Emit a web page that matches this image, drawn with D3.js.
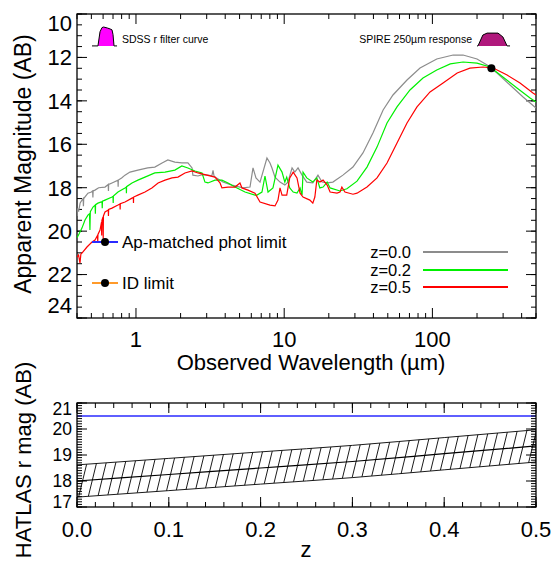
<!DOCTYPE html>
<html><head><meta charset="utf-8">
<script src="https://cdn.jsdelivr.net/npm/d3@7"></script>
<style>body{margin:0;background:#fff}svg{display:block;font-family:"Liberation Sans",Arial,sans-serif}</style>
</head><body>
<svg id="c" width="554" height="561"></svg>
<script>
// ---------------- data ----------------
const seriesNames = ["z=0.0","z=0.2","z=0.5"];
const seriesColors = ["#8c8c8c","#00f000","#ff0000"];
// [wavelength (micron), apparent AB magnitude]
const sedZ00 = [[0.400,19.3],[0.403,18.95],[0.41,19.1],[0.42,18.7],[0.432,18.57],[0.44,18.5],[0.442,18.85],[0.444,18.5],[0.474,18.25],[0.50,18.2],[0.51,18.15],[0.512,18.45],[0.514,18.15],[0.529,18.11],[0.56,18.0],[0.618,17.97],[0.65,17.85],[0.652,18.15],[0.654,17.85],[0.689,17.78],[0.756,17.65],[0.758,17.95],[0.760,17.65],[0.80,17.55],[0.843,17.42],[0.911,17.28],[1.03,17.19],[1.20,17.09],[1.34,17.05],[1.50,16.86],[1.64,16.72],[1.83,16.82],[2.04,16.86],[2.24,16.86],[2.39,17.09],[2.42,17.42],[2.62,17.46],[2.80,17.40],[3.06,17.42],[3.25,17.45],[3.31,17.2],[3.36,17.45],[3.41,17.51],[3.86,17.74],[4.44,17.88],[5.27,18.01],[5.88,17.97],[6.16,17.09],[6.45,17.55],[6.87,17.74],[7.65,16.63],[8.02,16.86],[8.27,17.09],[8.67,17.51],[9.37,17.74],[10.1,17.88],[10.6,17.74],[11.3,17.09],[11.8,17.28],[12.4,17.09],[13.2,17.42],[14.2,17.74],[15.6,17.78],[16.9,17.42],[18.0,17.74],[19.5,17.78],[21.3,17.74],[24.9,17.42],[29.1,17.05],[34.0,16.40],[39.7,15.48],[46.5,14.42],[54.2,13.73],[67.4,13.04],[82.5,12.49],[107,12.07],[138,11.89],[161,11.89],[200,12.07],[234,12.35],[273,12.72],[334,13.27],[409,13.82],[500,14.33]];
const sedZ02 = [[0.400,20.3],[0.415,20.1],[0.432,19.86],[0.453,19.49],[0.474,19.26],[0.486,19.2],[0.489,19.95],[0.492,19.1],[0.513,18.89],[0.53,18.8],[0.532,19.2],[0.534,18.78],[0.554,18.71],[0.59,18.64],[0.592,18.95],[0.594,18.62],[0.618,18.57],[0.689,18.43],[0.70,18.4],[0.702,18.7],[0.704,18.38],[0.756,18.20],[0.843,18.01],[0.86,17.97],[0.862,18.25],[0.864,17.95],[0.940,17.78],[1.03,17.65],[1.15,17.51],[1.34,17.32],[1.57,17.28],[1.83,17.19],[2.04,17.00],[2.24,17.09],[2.50,17.23],[2.79,17.32],[2.92,17.74],[3.06,17.78],[3.41,17.65],[3.80,17.65],[4.18,17.78],[4.66,17.97],[5.44,18.20],[6.35,18.34],[6.55,18.34],[7.08,18.20],[7.42,17.46],[7.78,18.20],[8.40,18.01],[9.08,16.96],[9.67,17.28],[10.1,17.74],[10.4,17.51],[10.9,18.01],[11.5,18.20],[12.2,18.25],[12.8,18.01],[13.2,18.34],[13.4,17.28],[14.2,17.55],[15.6,17.74],[16.6,17.55],[17.4,18.01],[18.3,17.97],[19.5,17.74],[20.4,18.01],[23.8,18.15],[26.5,18.05],[31.0,17.7],[36.2,17.05],[42.3,16.13],[49.4,15.02],[57.7,14.28],[70.6,13.50],[86.4,12.95],[107,12.58],[132,12.30],[161,12.21],[200,12.26],[245,12.44],[299,12.90],[372,13.41],[456,13.87],[500,14.05]];
const sedZ05 = [[0.400,21.2],[0.41,21.1],[0.419,21.47],[0.425,21.05],[0.432,21.01],[0.467,20.73],[0.505,20.5],[0.529,20.41],[0.55,20.2],[0.552,20.5],[0.554,20.15],[0.572,19.95],[0.585,19.6],[0.587,20.2],[0.589,19.5],[0.599,19.35],[0.601,20.35],[0.603,19.3],[0.618,19.12],[0.65,19.03],[0.652,19.3],[0.654,19.0],[0.689,18.94],[0.756,18.80],[0.78,18.75],[0.782,19.0],[0.784,18.73],[0.843,18.66],[0.94,18.48],[0.96,18.45],[0.962,18.7],[0.964,18.43],[1.03,18.34],[1.15,18.20],[1.28,18.01],[1.41,17.78],[1.57,17.65],[1.75,17.55],[1.92,17.51],[2.14,17.32],[2.39,17.23],[2.62,17.32],[3.01,17.42],[3.41,17.51],[3.69,17.78],[3.80,18.01],[4.18,17.97],[4.66,17.97],[5.03,17.78],[5.19,18.01],[5.70,18.11],[6.35,18.25],[6.87,18.66],[8.02,18.80],[8.67,18.84],[9.08,18.57],[9.37,18.01],[9.67,18.34],[10.4,18.34],[10.9,17.55],[11.5,17.28],[12.2,17.55],[12.8,18.25],[13.4,18.43],[14.9,18.57],[15.6,18.71],[16.1,18.43],[16.6,17.65],[17.4,17.74],[18.3,17.65],[19.5,17.88],[20.4,18.20],[22.7,18.25],[23.8,18.20],[24.5,17.97],[25.7,18.20],[29.1,18.30],[31.0,18.25],[36.2,17.97],[42.3,17.55],[49.4,16.86],[57.7,15.94],[67.4,15.02],[78.7,14.28],[96.4,13.59],[118,13.18],[147,12.72],[179,12.49],[220,12.44],[257,12.49],[319,12.81],[390,13.18],[477,13.64],[500,13.73]];
const seds = [sedZ00, sedZ02, sedZ05];
// filter curves: wavelength + relative response
const sdssLam  = [0.505,0.554,0.572,0.590,0.605,0.640,0.668,0.689,0.700,0.711,0.745];
const sdssResp = [0,0,0.75,0.97,1.0,0.95,0.9,0.85,0.6,0,0];
const spireLam  = [200,203,219,234,277,299,319,334];
const spireResp = [0,0,0.85,1.0,1.0,0.7,0,0];
const spireNorm = [250, 12.5];          // normalisation point
const apPhotLimit = 20.5, idLimit = 22.4;
const limitNames = ["Ap-matched phot limit","ID limit"];
const limitColors = ["#2a2aff","#ff9a2a"];
// bottom panel
const zVals   = [0.0,0.1,0.2,0.3,0.4,0.5];
const rMag    = [18.0,18.25,18.5,18.75,19.05,19.35];
const rMagHi  = [18.62,18.87,19.12,19.37,19.67,19.97];
const rMagLo  = [17.38,17.63,17.88,18.13,18.43,18.73];
const topYTicks = [10,12,14,16,18,20,22,24];
const topXTicks = [1,10,100];
const botXTicks = [0,0.1,0.2,0.3,0.4,0.5];
const botYTicks = [17,18,19,20,21];

// ---------------- drawing ----------------
const svg = d3.select("#c");
const x1 = d3.scaleLog().domain([0.4,500]).range([77,536]);
const y1 = d3.scaleLinear().domain([10,24]).range([14,318]);
const x2 = d3.scaleLinear().domain([0,0.5]).range([77,536]);
const y2 = d3.scaleLinear().domain([17,21]).range([507,403]);

function tick(g,a,b,c,d){g.append("line").attr("x1",a).attr("y1",b).attr("x2",c).attr("y2",d).attr("stroke","#000").attr("stroke-width",1);}

function frame(xs,ys,xMaj,xMin,yMaj,yMin,xFmt,yFmt,xLabBase,yFont,padTop,padBot){
  const [L,R]=xs.range(), B=d3.max(ys.range()), T=d3.min(ys.range());
  const g=svg.append("g");
  xMin.forEach(v=>{const X=xs(v);tick(g,X,B,X,B-5);tick(g,X,T,X,T+5);});
  xMaj.forEach(v=>{const X=xs(v);tick(g,X,B,X,B-10);tick(g,X,T,X,T+10);});
  yMin.forEach(v=>{const Y=ys(v);tick(g,L,Y,L+5,Y);tick(g,R,Y,R-5,Y);});
  yMaj.forEach(v=>{const Y=ys(v);tick(g,L,Y,L+10,Y);tick(g,R,Y,R-10,Y);});
  g.append("rect").attr("x",L).attr("y",T).attr("width",R-L).attr("height",B-T).attr("fill","none").attr("stroke","#000").attr("stroke-width",1.3);
  xMaj.forEach(v=>g.append("text").attr("x",xs(v)).attr("y",xLabBase).attr("text-anchor","middle").attr("font-size",22).text(xFmt(v)));
  yMaj.forEach(v=>{let Y=Math.min(Math.max(ys(v),T+padTop),B-padBot);
    g.append("text").attr("x",72).attr("y",Y+yFont*0.36).attr("text-anchor","end").attr("font-size",yFont).text(yFmt(v));});
}

// top panel
const minorLog=[];[0.1,1,10,100].forEach(d=>{for(let k=2;k<=9;k++){const v=d*k;if(v>=0.4&&v<=500)minorLog.push(v);}});
frame(x1,y1,topXTicks,minorLog,topYTicks,d3.range(10,24.01,0.5),d3.format("d"),d3.format("d"),347,22,9,13);

const line1 = d3.line().x(d=>x1(d[0])).y(d=>y1(d[1]));
svg.append("clipPath").attr("id","cp1").append("rect").attr("x",77).attr("y",14).attr("width",459).attr("height",304);
seds.forEach((s,i)=>svg.append("path").attr("d",line1(s)).attr("fill","none").attr("stroke",seriesColors[i]).attr("stroke-width",1.2).attr("clip-path","url(#cp1)"));

// filter curves
const sdssTop=10.6, sdssBase=11.47, spireTop=10.88, spireBase=11.47;
const sd = sdssLam.map((l,i)=>[l, sdssBase-(sdssBase-sdssTop)*sdssResp[i]]);
const sp = spireLam.map((l,i)=>[l, spireBase-(spireBase-spireTop)*spireResp[i]]);
svg.append("path").attr("d",line1(sd)).attr("fill","#ff00ff").attr("stroke","#000").attr("stroke-width",1);
svg.append("path").attr("d",line1(sp)).attr("fill","#b0187c").attr("stroke","#000").attr("stroke-width",1);
svg.append("text").attr("x",x1(0.745)+5).attr("y",y1(sdssBase)-3).attr("font-size",10.5).text("SDSS r filter curve");
svg.append("text").attr("x",x1(200)-5).attr("y",y1(spireBase)-3).attr("text-anchor","end").attr("font-size",10.5).text("SPIRE 250\u00b5m response");
svg.append("circle").attr("cx",x1(spireNorm[0])).attr("cy",y1(spireNorm[1])).attr("r",4).attr("fill","#000");

// limits legend
[apPhotLimit,idLimit].forEach((m,i)=>{
  const Y=Math.round(y1(m));
  svg.append("line").attr("x1",92).attr("x2",118).attr("y1",Y).attr("y2",Y).attr("stroke",limitColors[i]).attr("stroke-width",2);
  svg.append("circle").attr("cx",105).attr("cy",Y).attr("r",4).attr("fill","#000");
  svg.append("text").attr("x",122).attr("y",Y+6).attr("font-size",17).text(limitNames[i]);
});
// z legend
[252,269.5,287].forEach((Y,i)=>{
  svg.append("text").attr("x",411).attr("y",Y+6).attr("text-anchor","end").attr("font-size",16.5).text(seriesNames[i]);
  svg.append("line").attr("x1",423).attr("x2",508).attr("y1",Math.round(Y)).attr("y2",Math.round(Y)).attr("stroke",seriesColors[i]).attr("stroke-width",1.8);
});
svg.append("text").attr("transform","translate(31,164) rotate(-90)").attr("text-anchor","middle").attr("font-size",23).text("Apparent Magnitude (AB)");
svg.append("text").attr("x",311).attr("y",370).attr("text-anchor","middle").attr("font-size",22).text("Observed Wavelength (\u00b5m)");

// bottom panel
svg.append("clipPath").attr("id","cp2").append("rect").attr("x",77).attr("y",403).attr("width",459).attr("height",104);
const band = zVals.map((z,i)=>[z,rMagLo[i],rMagHi[i]]);
const area = d3.area().x(d=>x2(d[0])).y0(d=>y2(d[1])).y1(d=>y2(d[2])).curve(d3.curveMonotoneX);
svg.append("clipPath").attr("id","bandclip").append("path").attr("d",area(band));
const hg = svg.append("g").attr("clip-path","url(#bandclip)");
d3.range(x2(0)-40, x2(0.5)+10, 9.6).forEach(X=>{
  hg.append("line").attr("x1",X).attr("y1",510).attr("x2",X+27).attr("y2",400).attr("stroke","#000").attr("stroke-width",0.9);
});
svg.append("path").attr("d",area(band)).attr("fill","none").attr("stroke","#000").attr("stroke-width",0.9).attr("clip-path","url(#cp2)");
const line2 = d3.line().x(d=>x2(d[0])).y(d=>y2(d[1])).curve(d3.curveMonotoneX);
svg.append("path").attr("d",line2(zVals.map((z,i)=>[z,rMag[i]]))).attr("fill","none").attr("stroke","#000").attr("stroke-width",1.2);
svg.append("line").attr("x1",x2(0)).attr("x2",x2(0.5)).attr("y1",Math.round(y2(apPhotLimit))).attr("y2",Math.round(y2(apPhotLimit))).attr("stroke",limitColors[0]).attr("stroke-width",1.6);
frame(x2,y2,botXTicks,d3.range(0,0.501,0.02),botYTicks,d3.range(17,21.001,0.1),d3.format(".1f"),d3.format("d"),537,17.5,6,5.5);
svg.append("text").attr("transform","translate(31,460) rotate(-90)").attr("text-anchor","middle").attr("font-size",22).text("HATLAS r mag (AB)");
svg.append("text").attr("x",306).attr("y",557).attr("text-anchor","middle").attr("font-size",22).text("z");
</script>
</body></html>
